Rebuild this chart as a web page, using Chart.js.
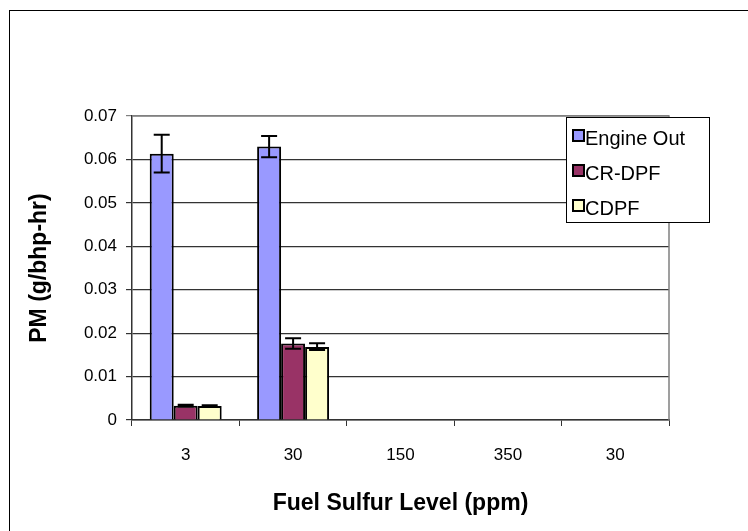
<!DOCTYPE html>
<html>
<head>
<meta charset="utf-8">
<script src="https://cdn.jsdelivr.net/npm/chart.js@4.4.1/dist/chart.umd.min.js"></script>
<style>
  html, body { margin: 0; padding: 0; background: #fff; }
  #wrap { position: relative; width: 748px; height: 531px; overflow: hidden; }
  #frame { position: absolute; left: 9px; top: 10px; width: 800px; height: 600px;
           border-left: 1px solid #000; border-top: 1px solid #000; pointer-events: none; }
</style>
</head>
<body>
<div id="wrap">
  <canvas id="pmChart" width="748" height="531"></canvas>
  <div id="frame"></div>
</div>
<script>
// PM emissions by fuel sulfur level
const sulfurLevels = ['3', '30', '150', '350', '30'];
const seriesNames = ['Engine Out', 'CR-DPF', 'CDPF'];
const seriesColors = ['#9999FF', '#993366', '#FFFFCC'];

const engineOut = [0.0613, 0.0630, null, null, null];
const crDpf = [0.0033, 0.0176, null, null, null];
const cdpf = [0.0032, 0.0168, null, null, null];

// error bar ranges (low, high)
const engineOutLow = [0.0570, 0.0605, null, null, null];
const engineOutHigh = [0.0657, 0.0654, null, null, null];
const crDpfLow = [0.0031, 0.0164, null, null, null];
const crDpfHigh = [0.0035, 0.0188, null, null, null];
const cdpfLow = [0.0030, 0.0161, null, null, null];
const cdpfHigh = [0.0034, 0.0177, null, null, null];

const yTicks = [0, 0.01, 0.02, 0.03, 0.04, 0.05, 0.06, 0.07];

const errLows = [engineOutLow, crDpfLow, cdpfLow];
const errHighs = [engineOutHigh, crDpfHigh, cdpfHigh];

// draws error bars on top of each bar
const errorBars = {
  id: 'errorBars',
  afterDatasetsDraw(chart) {
    const ctx = chart.ctx;
    const y = chart.scales.y;
    ctx.save();
    ctx.strokeStyle = '#000';
    ctx.lineWidth = 2;
    chart.data.datasets.forEach((ds, i) => {
      const meta = chart.getDatasetMeta(i);
      meta.data.forEach((bar, j) => {
        const lo = errLows[i][j], hi = errHighs[i][j];
        if (lo == null || hi == null) return;
        const x = bar.x;
        const y1 = y.getPixelForValue(lo), y2 = y.getPixelForValue(hi);
        ctx.beginPath();
        ctx.moveTo(x, y1); ctx.lineTo(x, y2);
        ctx.moveTo(x - 8, y1); ctx.lineTo(x + 8, y1);
        ctx.moveTo(x - 8, y2); ctx.lineTo(x + 8, y2);
        ctx.stroke();
      });
    });
    ctx.restore();
  }
};

// gray frame on plot area + boxed legend inside it
const plotExtras = {
  id: 'plotExtras',
  beforeDatasetsDraw(chart) {
    const a = chart.chartArea;
    const ctx = chart.ctx;
    ctx.save();
    ctx.strokeStyle = '#808080';
    ctx.lineWidth = 1.5;
    ctx.beginPath();
    ctx.moveTo(a.left, a.top); ctx.lineTo(a.right, a.top); ctx.lineTo(a.right, a.bottom);
    ctx.stroke();
    ctx.restore();
  },
  afterDraw(chart) {
    const ctx = chart.ctx;
    const bx = 566, by = 117, bw = 143, bh = 105;
    ctx.save();
    ctx.fillStyle = '#fff';
    ctx.fillRect(bx, by, bw, bh);
    ctx.strokeStyle = '#000';
    ctx.lineWidth = 1;
    ctx.strokeRect(bx + 0.5, by + 0.5, bw, bh);
    ctx.font = '20px "Liberation Sans", Arial, sans-serif';
    ctx.textBaseline = 'middle';
    chart.data.datasets.forEach((ds, i) => {
      const cy = by + 21 + i * 35;
      ctx.fillStyle = ds.backgroundColor;
      ctx.fillRect(bx + 7, cy - 8, 11, 11);
      ctx.strokeStyle = '#000';
      ctx.lineWidth = 2;
      ctx.strokeRect(bx + 7, cy - 8, 11, 11);
      ctx.fillStyle = '#000';
      ctx.fillText(ds.label, bx + 19, cy + 1);
    });
    ctx.restore();
  }
};

const values = [engineOut, crDpf, cdpf];

new Chart(document.getElementById('pmChart'), {
  type: 'bar',
  data: {
    labels: sulfurLevels,
    datasets: seriesNames.map((name, i) => ({
      label: name,
      data: values[i],
      backgroundColor: seriesColors[i],
      borderColor: '#000',
      borderWidth: 2,
      barPercentage: 1,
      categoryPercentage: 0.67
    }))
  },
  options: {
    responsive: false,
    animation: false,
    layout: { padding: { top: 116, right: 79, left: 0, bottom: 0 } },
    plugins: { legend: { display: false }, tooltip: { enabled: false } },
    scales: {
      x: {
        afterFit(s) { s.height = 111; },
        grid: { drawOnChartArea: false, drawTicks: true, tickLength: 6, color: '#333', offset: true },
        border: { color: '#333', width: 1.5 },
        ticks: { color: '#000', padding: 19, font: { family: '"Liberation Sans", Arial', size: 17 } },
        title: {
          display: true, text: 'Fuel Sulfur Level (ppm)', color: '#000',
          font: { family: '"Liberation Sans", Arial', size: 23, weight: 'bold' },
          padding: { top: 0, bottom: 14 }
        }
      },
      y: {
        min: 0, max: 0.07,
        afterFit(s) { s.width = 132; },
        afterBuildTicks(s) { s.ticks = yTicks.map(v => ({ value: v })); },
        grid: {
          tickLength: 6,
          color: c => (c.tick && c.tick.value === 0.07 ? '#808080' : '#333'),
          lineWidth: 1.2
        },
        border: { color: '#333', width: 1.5 },
        ticks: {
          color: '#000', padding: 9,
          font: { family: '"Liberation Sans", Arial', size: 17 },
          callback: v => String(+v.toFixed(2))
        },
        title: {
          display: true, text: 'PM (g/bhp-hr)', color: '#000',
          font: { family: '"Liberation Sans", Arial', size: 23, weight: 'bold' },
          padding: { top: 26, bottom: 0 }
        }
      }
    }
  },
  plugins: [errorBars, plotExtras]
});
</script>
</body>
</html>
